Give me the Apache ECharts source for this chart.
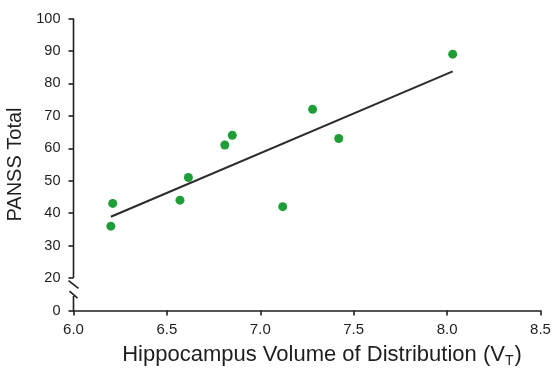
<!DOCTYPE html>
<html>
<head>
<meta charset="utf-8">
<script src="https://cdn.jsdelivr.net/npm/echarts@6/dist/echarts.min.js"></script>
<style>
html,body{margin:0;padding:0;background:#fff;}
#main{width:555px;height:368px;}
</style>
</head>
<body>
<div id="main"></div>
<script>
// Data
const volumeVT = [6.20, 6.21, 6.57, 6.615, 6.81, 6.85, 7.12, 7.28, 7.42, 8.03];
const panssTotal = [36, 43, 44, 51, 61, 64, 42, 72, 63, 89];
const fitX = [6.20, 8.03];
const fitY = [38.9, 83.7];
// Axis settings: the "0" tick is drawn one step below 20 (broken axis)
const xMin = 6.0, xMax = 8.5, xStep = 0.5;
const yMin = 10, yMax = 100, yStep = 10;
const yBreakTick = 10, yBreakLabel = '0';

const FONT = '"Liberation Sans", Arial, sans-serif';
const INK = '#1e1e1e';

const chart = echarts.init(document.getElementById('main'), null, {renderer: 'canvas'});

const option = {
  backgroundColor: '#fff',
  animation: false,
  grid: {left: 73.5, right: 14.5, top: 18.5, bottom: 57.5, containLabel: false, outerBoundsMode: 'none'},
  xAxis: {
    type: 'value', min: xMin, max: xMax, interval: xStep,
    name: '{n|Hippocampus Volume of Distribution (V}{s|T}{n|)}',
    nameLocation: 'middle', nameGap: 31,
    nameTextStyle: {
      padding: [0, 0, 0, 30],
      rich: {
        n: {fontFamily: FONT, fontSize: 22, color: INK},
        s: {fontFamily: FONT, fontSize: 14, color: INK, verticalAlign: 'bottom', padding: [13, 1, 0, 0]}
      }
    },
    axisLine: {show: true, lineStyle: {color: INK, width: 1.6}},
    axisTick: {show: true, inside: false, length: 5, lineStyle: {color: INK, width: 1.6}},
    axisLabel: {fontFamily: FONT, fontSize: 15, color: INK, margin: 12, formatter: v => v.toFixed(1)},
    splitLine: {show: false}
  },
  yAxis: {
    type: 'value', min: yMin, max: yMax, interval: yStep,
    name: 'PANSS Total', nameLocation: 'middle', nameGap: 46,
    nameTextStyle: {fontFamily: FONT, fontSize: 20, color: INK},
    axisLine: {show: false},
    axisTick: {show: true, inside: false, length: 5, lineStyle: {color: INK, width: 1.6}},
    axisLabel: {fontFamily: FONT, fontSize: 14.5, color: INK, margin: 13,
      formatter: v => (v === yBreakTick ? yBreakLabel : String(v))},
    splitLine: {show: false}
  },
  series: [
    {
      type: 'line', data: fitX.map((x, i) => [x, fitY[i]]),
      showSymbol: false, symbol: 'none',
      lineStyle: {color: '#2b2b2b', width: 2}, z: 2
    },
    {
      type: 'scatter', data: volumeVT.map((x, i) => [x, panssTotal[i]]),
      symbol: 'circle', symbolSize: 9,
      itemStyle: {color: '#1f9e38', opacity: 1}, z: 3
    }
  ]
};
chart.setOption(option);

// Broken y-axis line drawn from the axis scale
const pTop = chart.convertToPixel({gridIndex: 0}, [xMin, yMax]);
const p20 = chart.convertToPixel({gridIndex: 0}, [xMin, yBreakTick + yStep]);
const pBot = chart.convertToPixel({gridIndex: 0}, [xMin, yMin]);
const ax = pTop[0];
const lineStyle = {stroke: INK, lineWidth: 1.6};
const gap = pBot[1] - p20[1];
chart.setOption({
  graphic: [
    {type: 'line', shape: {x1: ax, y1: pTop[1], x2: ax, y2: p20[1]}, style: lineStyle, silent: true},
    {type: 'line', shape: {x1: ax - 5, y1: p20[1] + gap * 0.08, x2: ax + 5, y2: p20[1] + gap * 0.32}, style: lineStyle, silent: true},
    {type: 'line', shape: {x1: ax - 4, y1: p20[1] + gap * 0.40, x2: ax + 4, y2: p20[1] + gap * 0.62}, style: lineStyle, silent: true},
    {type: 'line', shape: {x1: ax, y1: p20[1] + gap * 0.55, x2: ax, y2: pBot[1]}, style: lineStyle, silent: true}
  ]
});
</script>
</body>
</html>
